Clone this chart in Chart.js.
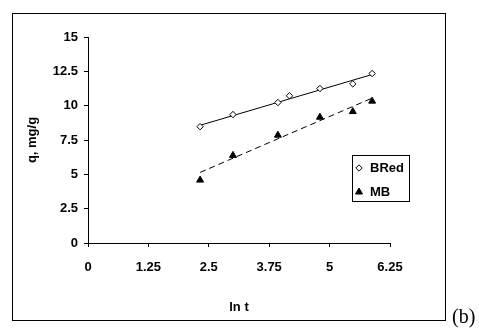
<!DOCTYPE html>
<html>
<head>
<meta charset="utf-8">
<script src="https://cdn.jsdelivr.net/npm/chart.js@4/dist/chart.umd.min.js"></script>
<style>
html,body{margin:0;padding:0;background:#fff;}
#wrap{position:relative;width:479px;height:329px;}
#lbl{position:absolute;left:452px;top:305px;font-family:"Liberation Serif","Times New Roman",serif;font-size:20px;color:#000;line-height:22px;}
</style>
</head>
<body>
<div id="wrap">
<canvas id="c" width="479" height="329"></canvas>
<div id="lbl">(b)</div>
</div>
<script>
// Data
const bredX = [2.32, 3.00, 3.93, 4.17, 4.80, 5.48, 5.88];
const bredY = [8.47, 9.35, 10.23, 10.72, 11.25, 11.59, 12.34];
const mbX = [2.32, 3.00, 3.93, 4.80, 5.48, 5.88];
const mbY = [4.58, 6.38, 7.85, 9.16, 9.57, 10.33];
const bredTrendX = [2.32, 5.88];
const bredTrendY = [8.57, 12.27];
const mbTrendX = [2.32, 5.88];
const mbTrendY = [5.14, 10.55];
const xTickLabels = ["0", "1.25", "2.5", "3.75", "5", "6.25"];
const yTickLabels = ["0", "2.5", "5", "7.5", "10", "12.5", "15"];
const seriesNames = ["BRed", "MB"];

const pts = (xs, ys) => xs.map((x, i) => ({x: x, y: ys[i]}));
const FONT = {family: "'Liberation Sans', Arial, sans-serif", size: 13, weight: 'bold'};

const frame = {
  id: 'frame',
  afterDraw(chart) {
    const ctx = chart.ctx;
    ctx.save();
    ctx.strokeStyle = '#000';
    ctx.lineWidth = 1;
    ctx.strokeRect(12.5, 13.5, 433, 307);
    // legend
    const lx = 352.5, ly = 155.5, lw = 57, lh = 46;
    ctx.fillStyle = '#fff';
    ctx.fillRect(lx, ly, lw, lh);
    ctx.strokeStyle = '#000';
    ctx.strokeRect(lx, ly, lw, lh);
    const rows = [168, 192];
    [0, 1].forEach(i => {
      const ds = chart.data.datasets[i];
      ctx.fillStyle = ds.pointBackgroundColor;
      ctx.strokeStyle = '#000';
      ctx.lineWidth = 1;
      Chart.helpers.drawPoint(ctx, {pointStyle: ds.pointStyle, radius: ds.pointRadius, rotation: 0, borderWidth: 1}, 359, rows[i]);
      ctx.fillStyle = '#000';
      ctx.font = "bold 13px 'Liberation Sans', Arial, sans-serif";
      ctx.textBaseline = 'middle';
      ctx.textAlign = 'left';
      ctx.fillText(seriesNames[i], 370, rows[i] + 0.5);
    });
    ctx.restore();
  }
};

new Chart(document.getElementById('c'), {
  type: 'scatter',
  data: {
    datasets: [
      {label: seriesNames[0], data: pts(bredX, bredY), pointStyle: 'rectRot', pointRadius: 3.2,
       pointBackgroundColor: '#fff', pointBorderColor: '#000', borderColor: '#000', borderWidth: 1, showLine: false, order: 0},
      {label: seriesNames[1], data: pts(mbX, mbY), pointStyle: 'triangle', pointRadius: 4,
       pointBackgroundColor: '#000', pointBorderColor: '#000', borderColor: '#000', borderWidth: 1, showLine: false, order: 0},
      {label: 'BRed fit', data: pts(bredTrendX, bredTrendY), showLine: true, pointRadius: 0,
       borderColor: '#000', borderWidth: 1, order: 1},
      {label: 'MB fit', data: pts(mbTrendX, mbTrendY), showLine: true, pointRadius: 0,
       borderColor: '#000', borderWidth: 1, borderDash: [6, 4], order: 1}
    ]
  },
  options: {
    responsive: false,
    animation: false,
    devicePixelRatio: 1,
    layout: {padding: {left: 21, top: 37, right: 89, bottom: 10}},
    plugins: {legend: {display: false}, tooltip: {enabled: false}},
    scales: {
      x: {
        type: 'linear', min: 0, max: 6.25,
        afterFit: s => { s.height = 76; },
        ticks: {stepSize: 1.25, color: '#000', font: FONT, padding: 13, maxRotation: 0,
                callback: (v, i) => xTickLabels[i]},
        grid: {drawOnChartArea: false, drawTicks: true, tickLength: 4, color: '#000'},
        border: {color: '#000', width: 1},
        title: {display: true, text: 'ln t', color: '#000', font: FONT, padding: {top: 4, bottom: 4}}
      },
      y: {
        type: 'linear', min: 0, max: 15,
        afterFit: s => { s.width = 67; },
        ticks: {stepSize: 2.5, color: '#000', font: FONT, padding: 6,
                callback: (v, i) => yTickLabels[i]},
        grid: {drawOnChartArea: false, drawTicks: true, tickLength: 4, color: '#000'},
        border: {color: '#000', width: 1},
        title: {display: true, text: 'q, mg/g', color: '#000', font: FONT, padding: {top: 4, bottom: 4}}
      }
    }
  },
  plugins: [frame]
});
</script>
</body>
</html>
